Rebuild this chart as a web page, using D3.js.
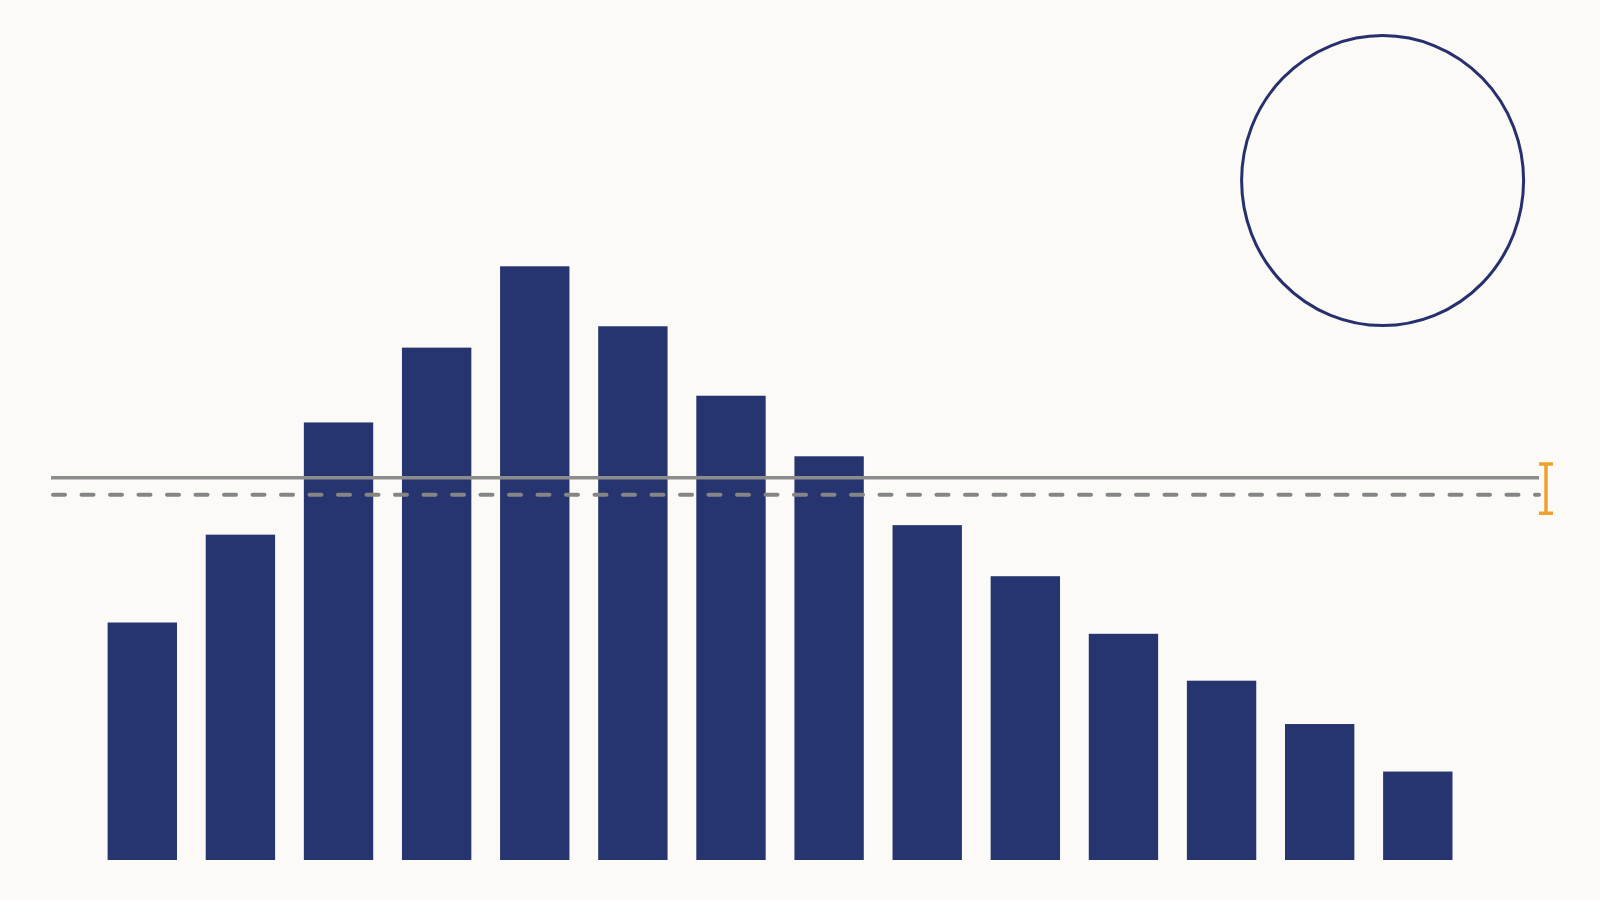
<!DOCTYPE html>
<html>
<head>
<meta charset="utf-8">
<script src="https://cdn.jsdelivr.net/npm/d3@7"></script>
<style>
html,body{margin:0;padding:0;background:#fbfaf6;}
svg{display:block;}
</style>
</head>
<body>
<svg id="chart" width="1600" height="900"></svg>
<script>
const categories = ["1","2","3","4","5","6","7","8","9","10","11","12","13","14"];
const values = [40.0, 54.8, 73.7, 86.3, 100, 89.9, 78.2, 68.0, 56.4, 47.8, 38.1, 30.2, 22.9, 14.9];
const refSolid = [64.4];
const refDashed = [61.5];
const errorRange = [58.4, 66.7];

const svg = d3.select("#chart");
svg.append("rect").attr("width",1600).attr("height",900).attr("fill","#fbfaf6");

const x = d3.scaleBand().domain(categories).range([92.9, 1467.2]).paddingInner(0.293).paddingOuter(0.15);
const y = d3.scaleLinear().domain([0, 100]).range([860, 266.3]);

svg.append("g").selectAll("rect").data(values).join("rect")
  .attr("x", (d,i) => x(categories[i]))
  .attr("width", x.bandwidth())
  .attr("y", d => y(d))
  .attr("height", d => y(0) - y(d))
  .attr("fill", "#26356f");

const lineX0 = 51, lineX1 = 1539;
svg.selectAll(".solid").data(refSolid).join("line")
  .attr("x1", lineX0).attr("x2", lineX1)
  .attr("y1", d => y(d)).attr("y2", d => y(d))
  .attr("stroke", "#8c8c8c").attr("stroke-width", 3.5);

svg.selectAll(".dashed").data(refDashed).join("line")
  .attr("x1", lineX0 + 2).attr("x2", lineX1)
  .attr("y1", d => y(d)).attr("y2", d => y(d))
  .attr("stroke", "#858585").attr("stroke-width", 4)
  .attr("stroke-linecap", "round")
  .attr("stroke-dasharray", "12,16.5");

// error bar
const ex = 1546;
const eg = svg.append("g").attr("stroke", "#f0a02c").attr("stroke-width", 3.5);
eg.append("line").attr("x1", ex).attr("x2", ex).attr("y1", y(errorRange[1])).attr("y2", y(errorRange[0]));
eg.append("line").attr("x1", ex-7).attr("x2", ex+7).attr("y1", y(errorRange[1])).attr("y2", y(errorRange[1]));
eg.append("line").attr("x1", ex-7).attr("x2", ex+7).attr("y1", y(errorRange[0])).attr("y2", y(errorRange[0]));

// circle
svg.append("ellipse")
  .attr("cx", 1382.6).attr("cy", 180.6)
  .attr("rx", 141).attr("ry", 145)
  .attr("fill", "none")
  .attr("stroke", "#27306e").attr("stroke-width", 3);
</script>
</body>
</html>
